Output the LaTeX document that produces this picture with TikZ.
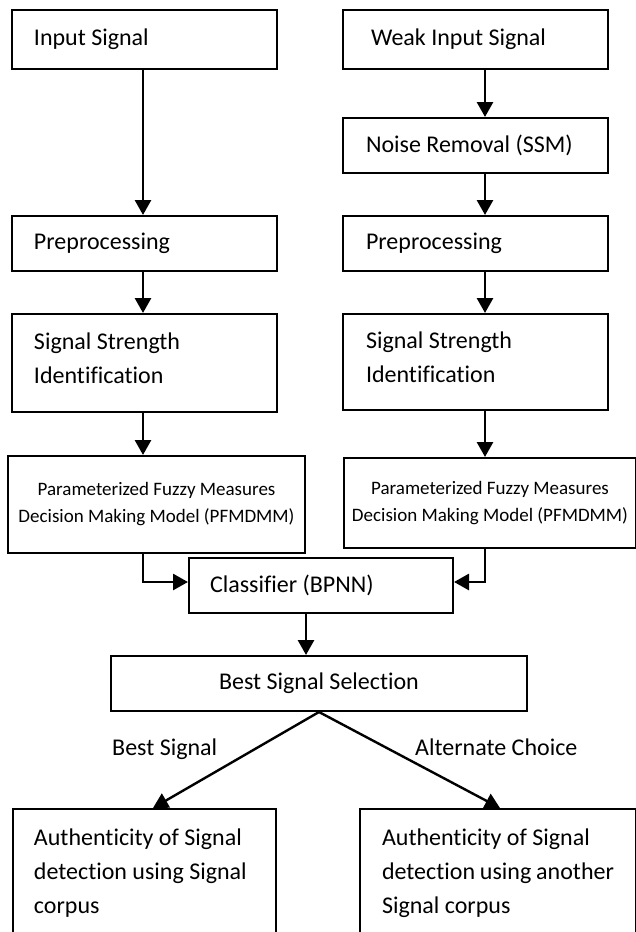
\documentclass[tikz,border=0pt]{standalone}
\usepackage{fontspec}
\setmainfont[Ligatures=NoCommon]{Carlito}
\usetikzlibrary{arrows.meta,calc}
\begin{document}
\begin{tikzpicture}[x=1pt,y=-1pt,
  box/.style={draw,line width=2pt,rectangle,inner sep=0pt,
    font=\fontsize{24}{34}\selectfont,align=flush left,anchor=north west},
  fuzzybox/.style={box,font=\fontsize{19}{27}\selectfont,align=flush center},
  arr/.style={line width=2.8pt,-{Triangle[length=15pt,width=16pt]}},
  darr/.style={line width=2.4pt,-{Triangle[length=15pt,width=16pt]}},
  lbl/.style={font=\fontsize{24}{34}\selectfont,inner sep=0pt,anchor=base west}]
\useasboundingbox (0,0) rectangle (636,932);
\clip (0,0) rectangle (636,932);

% left column
\node[box,minimum width=265pt,minimum height=59pt,text width=221pt] (inp) at (11,9) {Input Signal};
\node[box,minimum width=265pt,minimum height=55pt,text width=221pt] (preL) at (11,215) {Preprocessing};
\node[box,minimum width=265pt,minimum height=98pt,text width=221pt] (ssL) at (11,313) {Signal Strength\\Identification\rule[-10pt]{0pt}{0pt}};
\node[fuzzybox,minimum width=297pt,minimum height=97pt,text width=290pt] (pfL) at (7,455) {Parameterized Fuzzy Measures\\Decision Making Model (PFMDMM)};

% right column
\node[box,minimum width=265pt,minimum height=59pt,text width=209pt] (wi) at (342,9) {Weak Input Signal};
\node[box,minimum width=265pt,minimum height=55pt,text width=219pt] (nr) at (342,117) {Noise Removal (SSM)};
\node[box,minimum width=265pt,minimum height=55pt,text width=219pt] (preR) at (342,215) {Preprocessing};
\node[box,minimum width=265pt,minimum height=96pt,text width=219pt] (ssR) at (342,313) {Signal Strength\\Identification\rule[-10pt]{0pt}{0pt}};
\node[fuzzybox,minimum width=292pt,minimum height=90pt,text width=290pt] (pfR) at (343,457) {Parameterized Fuzzy Measures\\Decision Making Model (PFMDMM)};

% merge
\node[box,minimum width=264pt,minimum height=55pt,text width=222pt] (cls) at (188,557) {Classifier (BPNN)};
\node[box,align=flush center,minimum width=416pt,minimum height=55pt,text width=400pt] (bss) at (110,655) {Best Signal Selection};

% outputs
\node[box,inner xsep=21pt,inner ysep=20pt] (bl) at (12,808)
  {\begin{minipage}[t][150pt][t]{221pt}\raggedright Authenticity of Signal\\detection using Signal\\corpus\end{minipage}};
\node[box,inner xsep=22pt,inner ysep=20pt] (br) at (359,808)
  {\begin{minipage}[t][150pt][t]{232pt}\raggedright Authenticity of Signal\\detection using another\\Signal corpus\end{minipage}};

\node[lbl] (lb1) at (112,755) {Best Signal};
\node[lbl] (lb2) at (415,755) {Alternate Choice};

% connector columns
\coordinate (cL) at (143,0);
\coordinate (cR) at (485,0);
\coordinate (cM) at (306,0);
\coordinate (cD) at (319,0);
\coordinate (tL) at (153,0);
\coordinate (tR) at (500,0);
\coordinate (jy) at (0,582);

\draw[arr] (inp.south -| cL) -- (preL.north -| cL);
\draw[arr] (preL.south -| cL) -- (ssL.north -| cL);
\draw[arr] (ssL.south -| cL) -- (pfL.north -| cL);

\draw[arr] (wi.south -| cR) -- (nr.north -| cR);
\draw[arr] (nr.south -| cR) -- (preR.north -| cR);
\draw[arr] (preR.south -| cR) -- (ssR.north -| cR);
\draw[arr] (ssR.south -| cR) -- (pfR.north -| cR);

\draw[arr] (pfL.south -| cL) |- (cls.west |- jy);
\draw[arr] (pfR.south -| cR) |- (cls.east |- jy);
\draw[arr] (cls.south -| cM) -- (bss.north -| cM);

\draw[darr] (bss.south -| cD) -- (bl.north -| tL);
\draw[darr] (bss.south -| cD) -- (br.north -| tR);
\end{tikzpicture}
\end{document}
